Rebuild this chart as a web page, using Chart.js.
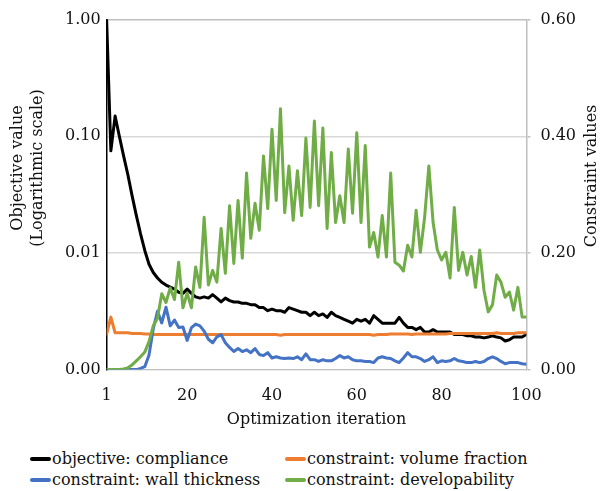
<!DOCTYPE html>
<html>
<head>
<meta charset="utf-8">
<script src="https://cdn.jsdelivr.net/npm/chart.js@4"></script>
<style>
  body { margin: 0; background: #fff; }
  #wrap { position: relative; width: 600px; height: 429px; }
  #legend {
    display: grid;
    grid-template-columns: 255px 300px;
    row-gap: 2px;
    margin-top: 20px;
    padding-left: 30px;
    font-family: "DejaVu Serif", serif;
    font-size: 16px;
    color: #111;
  }
  #legend .item { display: flex; align-items: center; white-space: nowrap; height: 19px; }
  #legend .swatch { width: 21px; height: 4px; border-radius: 2px; margin-right: 1px; }
</style>
</head>
<body>
<div id="wrap"><canvas id="chart"></canvas></div>
<div id="legend"></div>
<script>
// iteration numbers 1..100
const iterations = Array.from({ length: 100 }, (_, i) => i + 1);

// objective: compliance (left, log scale)
const compliance = [
  1.0, 0.075, 0.149, 0.100, 0.068, 0.047, 0.031, 0.021, 0.0146, 0.0105,
  0.0080, 0.0068, 0.0061, 0.0056, 0.0053, 0.0051, 0.0049, 0.0046, 0.0045, 0.0049,
  0.0045, 0.0042, 0.0041, 0.0042, 0.0041, 0.0044, 0.0041, 0.0038, 0.0041, 0.0039,
  0.0038, 0.0038, 0.0037, 0.0037, 0.0036, 0.0036, 0.0034, 0.0034, 0.0032, 0.0033,
  0.0032, 0.0032, 0.0031, 0.0034, 0.0033, 0.0032, 0.0031, 0.0031, 0.0029, 0.0031,
  0.0029, 0.0030, 0.0028, 0.0031, 0.0029, 0.0028, 0.0027, 0.0026, 0.0025, 0.0027,
  0.0026, 0.0027, 0.0025, 0.0029, 0.0027, 0.0025, 0.0025, 0.0025, 0.0025, 0.0028,
  0.0025, 0.0023, 0.0023, 0.0022, 0.0023, 0.0021, 0.0021, 0.0022, 0.0021, 0.0021,
  0.0021, 0.0021, 0.0020, 0.0020, 0.0020, 0.00195, 0.00195, 0.0019, 0.0019, 0.00187,
  0.0019, 0.00195, 0.0019, 0.00187, 0.00176, 0.0018, 0.0019, 0.0019, 0.0019, 0.0020
];

// constraint: volume fraction (right axis)
const volumeFraction = [
  0.061, 0.090, 0.063, 0.063, 0.063, 0.063, 0.062, 0.062, 0.062, 0.061,
  0.061, 0.060, 0.060, 0.060, 0.060, 0.060, 0.060, 0.060, 0.060, 0.060,
  0.060, 0.060, 0.060, 0.060, 0.060, 0.060, 0.060, 0.060, 0.060, 0.060,
  0.060, 0.060, 0.060, 0.060, 0.060, 0.060, 0.060, 0.060, 0.060, 0.060,
  0.060, 0.059, 0.060, 0.060, 0.060, 0.060, 0.060, 0.060, 0.060, 0.060,
  0.060, 0.060, 0.060, 0.060, 0.060, 0.060, 0.060, 0.060, 0.060, 0.060,
  0.060, 0.060, 0.060, 0.059, 0.060, 0.060, 0.060, 0.061, 0.061, 0.061,
  0.061, 0.061, 0.060, 0.061, 0.061, 0.061, 0.061, 0.061, 0.061, 0.061,
  0.061, 0.062, 0.062, 0.062, 0.062, 0.062, 0.062, 0.062, 0.062, 0.062,
  0.062, 0.062, 0.063, 0.062, 0.062, 0.062, 0.062, 0.063, 0.063, 0.063
];

// constraint: wall thickness (right axis)
const wallThickness = [
  0, 0, 0, 0, 0, 0, 0, 0, 0.002, 0.005,
  0.025, 0.070, 0.100, 0.080, 0.107, 0.075, 0.085, 0.072, 0.073, 0.050,
  0.072, 0.078, 0.075, 0.066, 0.052, 0.046, 0.056, 0.060, 0.046, 0.038,
  0.031, 0.036, 0.031, 0.034, 0.029, 0.036, 0.026, 0.024, 0.029, 0.020,
  0.022, 0.020, 0.019, 0.020, 0.019, 0.022, 0.017, 0.027, 0.017, 0.017,
  0.014, 0.017, 0.015, 0.015, 0.019, 0.024, 0.020, 0.022, 0.017, 0.015,
  0.015, 0.014, 0.014, 0.012, 0.020, 0.022, 0.020, 0.019, 0.015, 0.012,
  0.020, 0.029, 0.022, 0.022, 0.019, 0.014, 0.017, 0.022, 0.012, 0.015,
  0.014, 0.015, 0.019, 0.015, 0.014, 0.012, 0.012, 0.014, 0.012, 0.014,
  0.019, 0.022, 0.019, 0.014, 0.010, 0.012, 0.012, 0.012, 0.010, 0.009
];

// constraint: developability (right axis)
const developability = [
  0, 0, 0, 0, 0.001, 0.003, 0.008, 0.015, 0.022, 0.030,
  0.048, 0.075, 0.088, 0.130, 0.115, 0.140, 0.120, 0.184, 0.106, 0.131,
  0.106, 0.176, 0.141, 0.261, 0.145, 0.170, 0.150, 0.242, 0.165, 0.281,
  0.182, 0.290, 0.191, 0.337, 0.225, 0.285, 0.239, 0.366, 0.276, 0.412,
  0.290, 0.447, 0.269, 0.349, 0.256, 0.341, 0.264, 0.397, 0.278, 0.426,
  0.281, 0.414, 0.242, 0.372, 0.252, 0.298, 0.252, 0.378, 0.268, 0.406,
  0.252, 0.384, 0.210, 0.235, 0.193, 0.264, 0.193, 0.337, 0.184, 0.179,
  0.169, 0.213, 0.193, 0.273, 0.201, 0.261, 0.349, 0.252, 0.205, 0.188,
  0.201, 0.157, 0.278, 0.170, 0.201, 0.162, 0.194, 0.141, 0.205, 0.136,
  0.099, 0.111, 0.162, 0.150, 0.124, 0.133, 0.102, 0.141, 0.090, 0.090
];

const leftTicks = [0.001, 0.01, 0.1, 1];
const xTicks = [1, 20, 40, 60, 80, 100];

const serif = '"DejaVu Serif", serif';
const textColor = '#111';

function pts(values) {
  return iterations.map((x, i) => ({ x: x, y: values[i] }));
}

const datasets = [
  { label: 'objective: compliance', data: pts(compliance), borderColor: '#000000', yAxisID: 'y', order: 4 },
  { label: 'constraint: volume fraction', data: pts(volumeFraction), borderColor: '#ED7D31', yAxisID: 'y1', order: 3 },
  { label: 'constraint: wall thickness', data: pts(wallThickness), borderColor: '#4472C4', yAxisID: 'y1', order: 2 },
  { label: 'constraint: developability', data: pts(developability), borderColor: '#70AD47', yAxisID: 'y1', order: 1 }
];
datasets.forEach(d => {
  d.borderWidth = 3;
  d.pointRadius = 0;
  d.fill = false;
  d.tension = 0;
  d.borderJoinStyle = 'round';
  d.borderCapStyle = 'round';
});

// vertical axis titles, both read bottom-to-top like the original
const axisTitles = {
  id: 'axisTitles',
  afterDraw(chart) {
    const ctx = chart.ctx;
    ctx.save();
    ctx.font = '16px ' + serif;
    ctx.fillStyle = textColor;
    ctx.textAlign = 'center';
    ctx.textBaseline = 'middle';
    const put = (text, x, y) => {
      ctx.save();
      ctx.translate(x, y);
      ctx.rotate(-Math.PI / 2);
      ctx.fillText(text, 0, 0);
      ctx.restore();
    };
    put('Objective value', 18, 168);
    put('(Logarithmic scale)', 38, 168);
    put('Constraint values', 592, 176);
    ctx.restore();
  }
};

const chart = new Chart(document.getElementById('chart'), {
  type: 'line',
  data: { datasets: datasets },
  options: {
    responsive: true,
    maintainAspectRatio: false,
    animation: false,
    layout: { padding: { left: 59, right: 14, top: 11, bottom: 0 } },
    plugins: { legend: { display: false }, tooltip: { enabled: false } },
    scales: {
      x: {
        type: 'linear',
        min: 1,
        max: 100,
        afterBuildTicks: axis => { axis.ticks = xTicks.map(v => ({ value: v })); },
        grid: { display: false, drawTicks: false },
        border: { color: '#bfbfbf', width: 1 },
        ticks: { font: { family: serif, size: 16 }, color: textColor, padding: 17, maxRotation: 0 },
        title: { display: true, text: 'Optimization iteration', font: { family: serif, size: 16 }, color: textColor, padding: { top: -13, bottom: 0 } }
      },
      y: {
        type: 'logarithmic',
        position: 'left',
        min: 0.001,
        max: 1,
        afterBuildTicks: axis => { axis.ticks = leftTicks.map(v => ({ value: v })); },
        grid: {
          color: ctx => (ctx.tick && ctx.tick.value === 1) ? '#bfbfbf' : '#d9d9d9',
          lineWidth: 1.5,
          drawTicks: false
        },
        border: { color: '#000', width: 1.5 },
        ticks: { font: { family: serif, size: 16 }, color: textColor, padding: 6, callback: v => Number(v).toFixed(2) }
      },
      y1: {
        type: 'linear',
        position: 'right',
        min: 0,
        max: 0.6,
        ticks: { stepSize: 0.2, font: { family: serif, size: 16 }, color: textColor, padding: 10, callback: v => Number(v).toFixed(2) },
        grid: { drawOnChartArea: false, drawTicks: true, tickLength: 4, color: '#bfbfbf', lineWidth: 1.5 },
        border: { color: '#bfbfbf', width: 1.5 }
      }
    }
  },
  plugins: [axisTitles]
});

// legend laid out in two columns like the original
const legend = document.getElementById('legend');
datasets.forEach(d => {
  const item = document.createElement('div');
  item.className = 'item';
  const sw = document.createElement('span');
  sw.className = 'swatch';
  sw.style.background = d.borderColor;
  const tx = document.createElement('span');
  tx.textContent = d.label;
  item.appendChild(sw);
  item.appendChild(tx);
  legend.appendChild(item);
});
</script>
</body>
</html>
